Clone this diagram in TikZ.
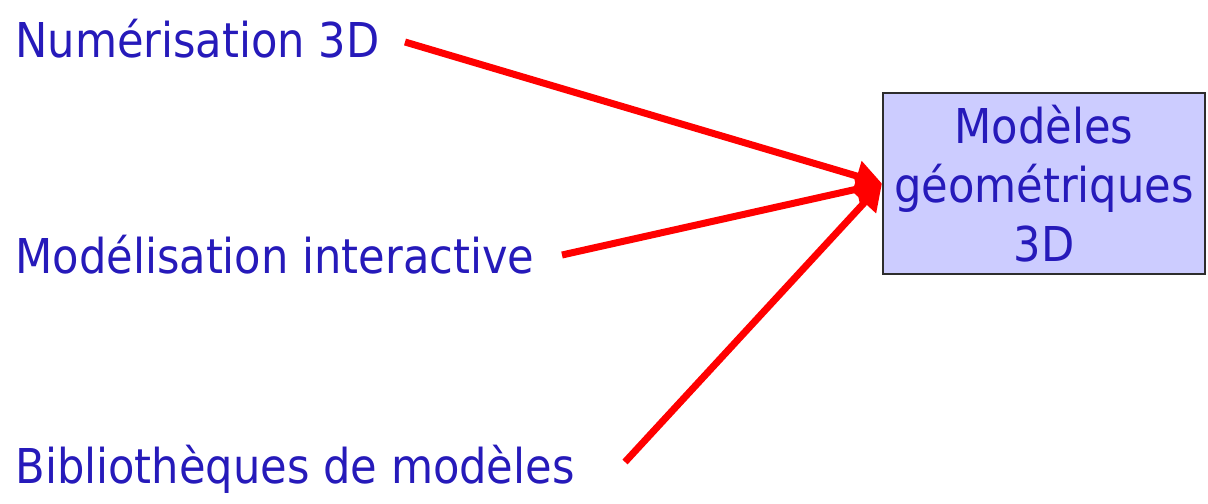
\documentclass[tikz,border=0pt]{standalone}
\usepackage{fontspec}
\setmainfont{DejaVu Sans Condensed}
\usetikzlibrary{arrows.meta}
\definecolor{textblue}{RGB}{38,26,186}
\definecolor{boxfill}{RGB}{204,204,255}
\definecolor{boxline}{RGB}{45,45,45}

\begin{document}
\begin{tikzpicture}[x=0.5pt, y=-0.5pt,
  source/.style={anchor=base west, text=textblue, inner sep=0pt,
    font=\fontsize{24}{29.5}\selectfont},
  target/.style={draw=boxline, line width=1pt, fill=boxfill, text=textblue,
    align=center, inner sep=0pt, minimum width=161pt, minimum height=90.5pt,
    font=\fontsize{24}{29.5}\selectfont},
  link/.style={red, line width=3.5pt, -{Triangle[length=13pt, width=15pt]}}]
\useasboundingbox (0,0) rectangle (1208,503);
% Sources
\node[source] (num) at (15,57) {Numérisation 3D};
\node[source] (mod) at (15,273) {Modélisation interactive};
\node[source] (bib) at (15,483) {Bibliothèques de modèles};
% Target box
\node[target] (geo) at (1044,183.5) {Modèles\\géométriques\\3D};
% Arrow starts
\coordinate (numstart) at (405,42);
\coordinate (modstart) at (562,255);
\coordinate (bibstart) at (625,462);
% Arrows
\draw[link] (numstart) -- (geo.west);
\draw[link] (modstart) -- (geo.west);
\draw[link] (bibstart) -- (geo.west);
\end{tikzpicture}
\end{document}
